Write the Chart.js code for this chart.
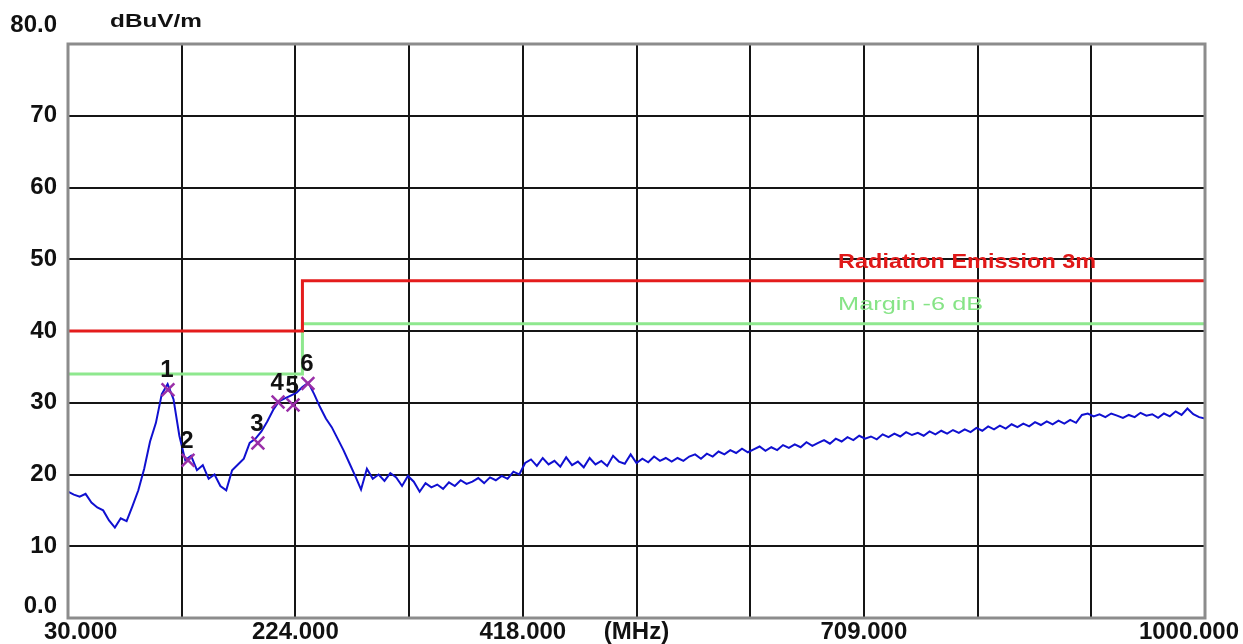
<!DOCTYPE html>
<html>
<head>
<meta charset="utf-8">
<script src="https://cdn.jsdelivr.net/npm/chart.js@4.4.1/dist/chart.umd.min.js"></script>
<style>
  html, body { margin: 0; padding: 0; background: #fff; }
  #wrap { width: 1243px; height: 644px; position: relative; }
</style>
</head>
<body>
<div id="wrap"><canvas id="emiChart"></canvas></div>
<script>
// measured trace (MHz / dBuV/m)
const freqMHz = [
  30, 35, 40, 45, 50, 55, 60, 65, 70, 75,
  80, 85, 90, 95, 100, 105, 110, 115, 120, 125,
  130, 135, 140, 145, 150, 155, 160, 165, 170, 175,
  180, 185, 190, 195, 200, 205, 210, 215, 220, 225,
  230, 235, 240, 245, 250, 255, 260, 265, 270, 275,
  280, 285, 290, 295, 300, 305, 310, 315, 320, 325,
  330, 335, 340, 345, 350, 355, 360, 365, 370, 375,
  380, 385, 390, 395, 400, 405, 410, 415, 420, 425,
  430, 435, 440, 445, 450, 455, 460, 465, 470, 475,
  480, 485, 490, 495, 500, 505, 510, 515, 520, 525,
  530, 535, 540, 545, 550, 555, 560, 565, 570, 575,
  580, 585, 590, 595, 600, 605, 610, 615, 620, 625,
  630, 635, 640, 645, 650, 655, 660, 665, 670, 675,
  680, 685, 690, 695, 700, 705, 710, 715, 720, 725,
  730, 735, 740, 745, 750, 755, 760, 765, 770, 775,
  780, 785, 790, 795, 800, 805, 810, 815, 820, 825,
  830, 835, 840, 845, 850, 855, 860, 865, 870, 875,
  880, 885, 890, 895, 900, 905, 910, 915, 920, 925,
  930, 935, 940, 945, 950, 955, 960, 965, 970, 975,
  980, 985, 990, 995, 1000
];
const levelDb = [
  17.6, 17.2, 16.9, 17.3, 16.1, 15.4, 15.0, 13.6, 12.6, 13.9,
  13.5, 15.6, 17.8, 20.8, 24.6, 27.2, 31.2, 32.6, 30.5, 25.4,
  22.0, 22.6, 20.6, 21.3, 19.4, 20.0, 18.4, 17.8, 20.6, 21.4,
  22.2, 24.4, 25.0, 26.0, 27.4, 29.0, 30.2, 30.6, 31.0, 31.4,
  32.2, 32.8, 31.2, 29.4, 27.8, 26.6, 25.0, 23.4, 21.6, 19.8,
  17.9, 20.8, 19.4, 20.0, 19.1, 20.2, 19.6, 18.4, 19.8, 19.0,
  17.6, 18.8, 18.2, 18.6, 18.0, 18.9, 18.4, 19.2, 18.7, 19.0,
  19.5, 18.8, 19.6, 19.2, 19.8, 19.4, 20.4, 20.0, 21.6, 22.1,
  21.2, 22.3, 21.4, 21.9, 21.1, 22.4, 21.3, 21.8, 21.0, 22.3,
  21.4, 21.9, 21.2, 22.6, 21.8, 21.5, 22.8, 21.6, 22.2, 21.7,
  22.5, 21.9, 22.3, 21.8, 22.3, 21.9, 22.5, 22.8, 22.2, 22.9,
  22.5, 23.2, 22.8, 23.4, 23.0, 23.6, 23.1, 23.5, 23.9, 23.3,
  23.8, 23.4, 24.1, 23.7, 24.2, 23.8, 24.5, 24.0, 24.4, 24.8,
  24.3, 25.0, 24.6, 25.2, 24.8, 25.4, 25.0, 25.3, 24.9, 25.6,
  25.2, 25.7, 25.3, 25.9, 25.5, 25.8, 25.4, 26.0, 25.6, 26.1,
  25.7, 26.2, 25.8, 26.3, 25.9, 26.5, 26.1, 26.7, 26.3, 26.8,
  26.4, 27.0, 26.6, 27.1, 26.7, 27.3, 26.9, 27.4, 27.0, 27.5,
  27.1, 27.6, 27.2, 28.3, 28.5, 28.1, 28.4, 28.0, 28.5, 28.2,
  27.9, 28.3, 28.0, 28.6, 28.2, 28.4, 27.9, 28.5, 28.1, 28.8,
  28.3, 29.2, 28.4, 28.0, 27.8
];

// limit and margin lines
const limitFreq = [30, 230, 230, 1000];
const limitLevel = [40, 40, 47, 47];
const marginLevel = [34, 34, 41, 41];
const limitName = "Radiation Emission 3m";
const marginName = "Margin -6 dB";

// peak markers
const markerNo = ["1", "2", "3", "4", "5", "6"];
const markerFreq = [115.3, 132.4, 192.0, 209.2, 222.0, 234.7];
const markerLevel = [31.8, 22.0, 24.4, 30.1, 29.7, 32.7];

// axes
const xGrid = [30, 127, 224, 321, 418, 515, 612, 709, 806, 903, 1000];
const xTickLabels = ["30.000", "", "224.000", "", "418.000", "(MHz)", "", "709.000", "", "", "1000.000"];
const yGrid = [0, 10, 20, 30, 40, 50, 60, 70, 80];
const yTickLabels = ["0.0", "10", "20", "30", "40", "50", "60", "70", "80.0"];
const yUnit = "dBuV/m";

const toXY = (xs, ys) => xs.map((x, i) => ({ x: x, y: ys[i] }));

// draw text squeezed/stretched to a given width
function fitText(ctx, text, x, y, width) {
  const w = ctx.measureText(text).width;
  ctx.save();
  ctx.translate(x, y);
  ctx.scale(width / w, 1);
  ctx.fillText(text, 0, 0);
  ctx.restore();
}

const emiText = {
  id: "emiText",
  afterDraw(chart) {
    const { ctx, chartArea: a, scales } = chart;
    const xs = scales.x, ys = scales.y;

    // grey frame
    ctx.save();
    ctx.strokeStyle = "#8c8c8c";
    ctx.lineWidth = 3;
    ctx.strokeRect(a.left, a.top, a.right - a.left, a.bottom - a.top);

    // y tick labels
    ctx.fillStyle = "#111";
    ctx.font = "bold 24px 'Liberation Sans', Arial, sans-serif";
    ctx.textAlign = "right";
    ctx.textBaseline = "middle";
    yGrid.forEach((v, i) => {
      let py = ys.getPixelForValue(v);
      if (i === 0) py -= 12;
      if (i === yGrid.length - 1) py -= 19;
      ctx.fillText(yTickLabels[i], 57, py);
    });

    // unit
    ctx.textAlign = "left";
    ctx.font = "bold 19px 'Liberation Sans', Arial, sans-serif";
    fitText(ctx, yUnit, 110, 22, 92);

    // x tick labels
    ctx.font = "bold 24px 'Liberation Sans', Arial, sans-serif";
    ctx.textAlign = "left";
    xGrid.forEach((v, i) => {
      const t = xTickLabels[i];
      if (!t) return;
      const w = ctx.measureText(t).width;
      let left = xs.getPixelForValue(v) - w / 2;
      left = Math.max(44, Math.min(left, 1239 - w));
      ctx.fillText(t, left, 632);
    });

    // marker numbers
    ctx.font = "bold 24px 'Liberation Sans', Arial, sans-serif";
    ctx.textAlign = "center";
    ctx.textBaseline = "middle";
    ctx.fillStyle = "#111";
    markerNo.forEach((n, i) => {
      const px = xs.getPixelForValue(markerFreq[i]);
      const py = ys.getPixelForValue(markerLevel[i]);
      ctx.fillText(n, px - 1, py - 19);
    });

    // limit captions
    ctx.textAlign = "left";
    ctx.font = "bold 21px 'Liberation Sans', Arial, sans-serif";
    ctx.fillStyle = "#e01818";
    fitText(ctx, limitName, xs.getPixelForValue(687), ys.getPixelForValue(49.6), 258);
    ctx.font = "19px 'Liberation Sans', Arial, sans-serif";
    ctx.fillStyle = "#86e486";
    fitText(ctx, marginName, xs.getPixelForValue(687), ys.getPixelForValue(43.6), 145);
    ctx.restore();
  }
};

const ctx = document.getElementById("emiChart").getContext("2d");
new Chart(ctx, {
  type: "line",
  data: {
    datasets: [
      {
        label: "Markers",
        data: toXY(markerFreq, markerLevel),
        showLine: false,
        pointStyle: "crossRot",
        pointRadius: 9,
        pointBorderWidth: 2.5,
        pointBorderColor: "#9a2fa8",
        pointBackgroundColor: "#9a2fa8",
        order: 0,
      },
      {
        label: "Level",
        data: toXY(freqMHz, levelDb),
        borderColor: "#1010d0",
        borderWidth: 2,
        pointRadius: 0,
        tension: 0,
        order: 1,
      },
      {
        label: limitName,
        data: toXY(limitFreq, limitLevel),
        borderColor: "#e41c1c",
        borderWidth: 3,
        pointRadius: 0,
        order: 2,
      },
      {
        label: marginName,
        data: toXY(limitFreq, marginLevel),
        borderColor: "#8ee88e",
        borderWidth: 3,
        pointRadius: 0,
        order: 3,
      },
    ],
  },
  options: {
    responsive: true,
    maintainAspectRatio: false,
    animation: false,
    layout: { padding: { left: 68, right: 38, top: 44, bottom: 26 } },
    plugins: {
      legend: { display: false },
      tooltip: { enabled: false },
    },
    scales: {
      x: {
        type: "linear",
        min: 30,
        max: 1000,
        afterBuildTicks: (s) => { s.ticks = xGrid.map((v) => ({ value: v })); },
        ticks: { display: false },
        grid: { color: "#151515", lineWidth: 2, drawTicks: false },
        border: { display: false },
      },
      y: {
        min: 0,
        max: 80,
        afterBuildTicks: (s) => { s.ticks = yGrid.map((v) => ({ value: v })); },
        ticks: { display: false },
        grid: { color: "#151515", lineWidth: 2, drawTicks: false },
        border: { display: false },
      },
    },
  },
  plugins: [emiText],
});
</script>
</body>
</html>
